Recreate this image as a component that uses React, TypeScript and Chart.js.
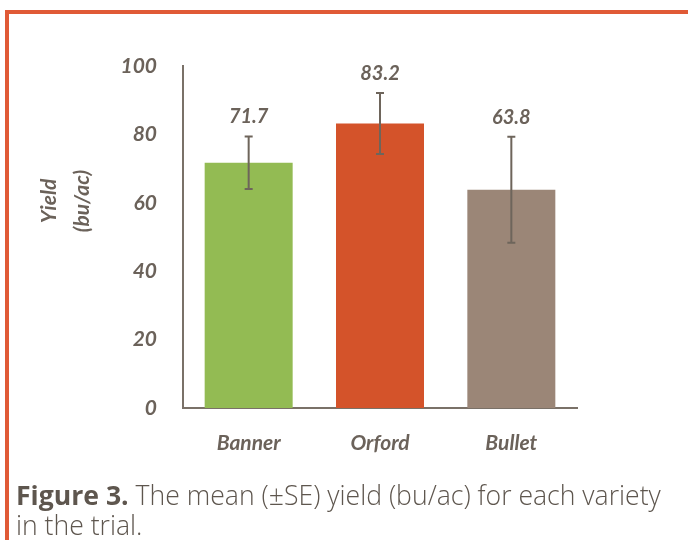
import React, { useEffect, useRef } from "react";
import { Chart, registerables } from "chart.js";

Chart.register(...registerables);

const categories = ["Banner", "Orford", "Bullet"];
const means = [71.7, 83.2, 63.8];
const stdErrors = [7.7, 8.9, 15.5];
const barColors = ["#93bb53", "#d4532a", "#9b8677"];
const yAxisTitle = ["Yield", "(bu/ac)"];
const captionBold = "Figure 3.";
const captionLine1 = " The mean (±SE) yield (bu/ac) for each variety";
const captionLine2 = "in the trial.";

const TEXT = "#6b625a";
const AXIS = "#7a7168";
const FONT = "Lato, 'Open Sans', sans-serif";

const errorBarPlugin = {
  id: "errorBars",
  afterDatasetsDraw(chart: any) {
    const ctx = chart.ctx;
    const meta = chart.getDatasetMeta(0);
    const y = chart.scales.y;
    ctx.save();
    meta.data.forEach((el: any, i: number) => {
      const x = el.x;
      const top = y.getPixelForValue(means[i] + stdErrors[i]);
      const bot = y.getPixelForValue(means[i] - stdErrors[i]);
      ctx.strokeStyle = "#6e655b";
      ctx.lineWidth = 2;
      ctx.beginPath();
      ctx.moveTo(x, top);
      ctx.lineTo(x, bot);
      ctx.moveTo(x - 4, top);
      ctx.lineTo(x + 4, top);
      ctx.moveTo(x - 4, bot);
      ctx.lineTo(x + 4, bot);
      ctx.stroke();
      ctx.fillStyle = TEXT;
      ctx.font = "italic bold 20px " + FONT;
      ctx.textAlign = "center";
      ctx.textBaseline = "alphabetic";
      ctx.fillText(means[i].toFixed(1), x, top - 13);
    });
    // y-axis title
    const cy = 201;
    ctx.translate(66, cy);
    ctx.rotate(-Math.PI / 2);
    ctx.font = "italic bold 21px " + FONT;
    ctx.textAlign = "center";
    ctx.textBaseline = "middle";
    ctx.fillStyle = TEXT;
    ctx.fillText(yAxisTitle[0], 0, -17);
    ctx.fillText(yAxisTitle[1], 0, 16);
    ctx.restore();
  },
};

export default function App() {
  const ref = useRef<HTMLCanvasElement>(null);
  useEffect(() => {
    if (!ref.current) return;
    const chart = new Chart(ref.current, {
      type: "bar",
      data: {
        labels: categories,
        datasets: [
          {
            data: means,
            backgroundColor: barColors,
            borderWidth: 0,
            categoryPercentage: 0.67,
            barPercentage: 1,
          },
        ],
      },
      options: {
        animation: false,
        responsive: false,
        events: [],
        layout: { padding: { top: 66, right: 111, bottom: 72, left: 0 } },
        plugins: { legend: { display: false }, tooltip: { enabled: false } },
        scales: {
          x: {
            grid: { display: false, drawTicks: false },
            border: { display: true, color: AXIS, width: 2 },
            ticks: {
              color: TEXT,
              padding: 23,
              font: { family: FONT, style: "italic", weight: "bold", size: 21 },
            },
            afterFit: (s: any) => {
              s.height = 60;
            },
          },
          y: {
            min: 0,
            max: 100,
            grid: { display: false, drawTicks: false },
            border: { display: true, color: AXIS, width: 2 },
            ticks: {
              stepSize: 20,
              color: TEXT,
              padding: 26,
              font: { family: FONT, style: "italic", weight: "bold", size: 21 },
            },
            afterFit: (s: any) => {
              s.width = 183;
            },
          },
        },
      },
      plugins: [errorBarPlugin],
    });
    return () => chart.destroy();
  }, []);

  return (
    <div style={{ position: "absolute", left: 0, top: 0, width: 688, height: 540, background: "#fff", overflow: "hidden" }}>
      <div style={{ position: "absolute", left: 5, top: 10, right: 0, height: 4, background: "#e05a36" }} />
      <div style={{ position: "absolute", left: 5, top: 10, width: 4, bottom: 0, background: "#e05a36" }} />
      <canvas ref={ref} width={688} height={540} style={{ position: "absolute", left: 0, top: 0 }} />
      <div
        style={{
          position: "absolute",
          left: 16,
          top: 480,
          fontFamily: "'Open Sans', sans-serif",
          fontSize: 26.6,
          lineHeight: "30px",
          color: "#5e564e",
          fontWeight: 300,
          whiteSpace: "nowrap",
        }}
      >
        <span style={{ fontWeight: 700 }}>{captionBold}</span>
        {captionLine1}
        <br />
        {captionLine2}
      </div>
    </div>
  );
}
